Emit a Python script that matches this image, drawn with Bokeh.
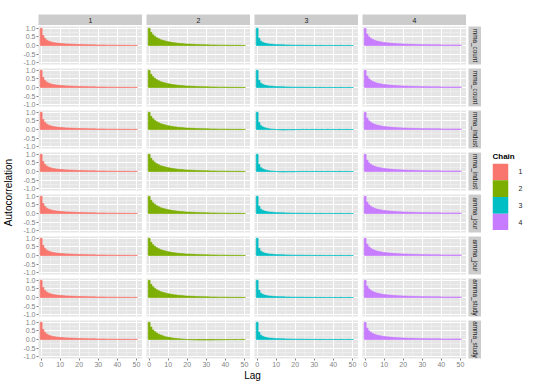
import math
from bokeh.plotting import figure
from bokeh.layouts import row, column
from bokeh.models import (Range1d, FixedTicker, LinearAxis, PrintfTickFormatter,
                          Spacer, FactorRange, CategoricalAxis)
from bokeh.embed import file_html
from bokeh.resources import INLINE
from bokeh.core.properties import value

FONT = "Liberation Sans"

# ---------------- data ----------------
lags = list(range(51))
chains = ["1", "2", "3", "4"]
chain_colors = ["#F8766D", "#7CAE00", "#00BFC4", "#C77CFF"]
row_labels = ["mma_count", "mma_count", "mma_indust", "mma_indust",
              "amma_jour", "amma_jour", "amma_study", "amma_study"]
x_ticks = [0, 10, 20, 30, 40, 50]
x_minor = [5, 15, 25, 35, 45]
y_ticks = [-1.0, -0.5, 0.0, 0.5, 1.0]
y_minor = [-0.75, -0.25, 0.25, 0.75]

acf_chain1 = [1.00, 0.58, 0.40, 0.31, 0.25, 0.21, 0.18, 0.16, 0.14, 0.13,
              0.12, 0.11, 0.10, 0.09, 0.09, 0.08, 0.08, 0.07, 0.07, 0.06,
              0.06, 0.06, 0.05, 0.05, 0.05, 0.04, 0.04, 0.04, 0.04, 0.03,
              0.03, 0.03, 0.03, 0.03, 0.02, 0.02, 0.02, 0.02, 0.02, 0.02,
              0.01, 0.02, 0.01, 0.01, 0.02, 0.01, 0.01, 0.01, 0.00, 0.01, 0.01]
acf_chain2 = [1.00, 0.76, 0.62, 0.52, 0.45, 0.39, 0.34, 0.30, 0.27, 0.24,
              0.22, 0.20, 0.18, 0.16, 0.15, 0.13, 0.12, 0.11, 0.10, 0.09,
              0.08, 0.08, 0.07, 0.07, 0.06, 0.06, 0.05, 0.05, 0.05, 0.04,
              0.04, 0.04, 0.03, 0.03, 0.03, 0.03, 0.02, 0.02, 0.02, 0.02,
              0.02, 0.02, 0.01, 0.01, 0.01, 0.01, 0.01, 0.01, 0.01, 0.00, 0.01]
acf_chain3 = [1.00, 0.42, 0.25, 0.18, 0.14, 0.11, 0.09, 0.08, 0.07, 0.06,
              0.05, 0.05, 0.04, 0.04, 0.04, 0.03, 0.03, 0.03, 0.02, 0.02,
              0.02, 0.02, 0.02, 0.01, 0.02, 0.01, 0.01, 0.01, 0.01, 0.00,
              0.01, 0.01, 0.00, 0.01, 0.00, 0.01, 0.00, 0.00, 0.01, 0.00,
              0.00, 0.01, 0.00, 0.00, 0.01, 0.00, 0.00, 0.00, 0.01, 0.00, 0.00]
acf_chain4 = [1.00, 0.66, 0.50, 0.41, 0.35, 0.30, 0.26, 0.23, 0.21, 0.19,
              0.17, 0.16, 0.15, 0.14, 0.13, 0.12, 0.11, 0.10, 0.10, 0.09,
              0.09, 0.08, 0.08, 0.07, 0.07, 0.07, 0.06, 0.06, 0.06, 0.05,
              0.05, 0.05, 0.05, 0.05, 0.04, 0.04, 0.04, 0.04, 0.04, 0.04,
              0.03, 0.03, 0.03, 0.03, 0.03, 0.03, 0.03, 0.03, 0.03, 0.03, 0.03]
# panels that differ visibly from their chain's usual shape
acf_indust_chain3 = [1.00, 0.40, 0.22, 0.15, 0.10, 0.07, 0.05, 0.03, 0.02, 0.01,
                     0.00, -0.01, -0.02, -0.02, -0.03, -0.02, -0.02, -0.01, -0.02, -0.01,
                     -0.01, 0.00, -0.01, 0.00, 0.01, 0.00, 0.01, 0.00, 0.00, 0.01,
                     0.00, 0.01, 0.00, 0.00, 0.01, 0.00, 0.00, 0.01, 0.00, 0.00,
                     0.01, 0.00, 0.00, 0.01, 0.00, 0.00, 0.00, 0.01, 0.00, 0.00, 0.00]
acf_study_chain2 = [1.00, 0.72, 0.55, 0.45, 0.37, 0.31, 0.26, 0.22, 0.18, 0.15,
                    0.13, 0.11, 0.09, 0.07, 0.06, 0.05, 0.04, 0.03, 0.02, 0.01,
                    0.00, -0.01, -0.01, -0.02, -0.02, -0.03, -0.03, -0.03, -0.03, -0.03,
                    -0.03, -0.03, -0.03, -0.03, -0.02, -0.02, -0.02, -0.02, -0.01, -0.01,
                    -0.01, -0.01, 0.00, 0.00, 0.00, -0.01, 0.00, 0.00, 0.00, 0.01, 0.00]

chain_acf = [acf_chain1, acf_chain2, acf_chain3, acf_chain4]
overrides = {(2, 2): acf_indust_chain3, (3, 2): acf_indust_chain3,
             (7, 1): acf_study_chain2}

# ---------------- style ----------------
PANEL_BG = "#E5E5E5"
STRIP_BG = "#CCCCCC"
TICK_COL = "#7F7F7F"
FW, FH = 104, 38
LEFT0 = 22  # border left of first column (room for y tick labels)
NROWS = 8


def base_fig(**kw):
    opts = dict(output_backend="svg", toolbar_location=None,
                x_axis_location=None, y_axis_location=None,
                outline_line_color=None, border_fill_color="white",
                min_border_left=0, min_border_right=0,
                min_border_top=0, min_border_bottom=0)
    opts.update(kw)
    return figure(**opts)


def style_axis(ax):
    ax.axis_line_color = None
    ax.major_tick_line_color = TICK_COL
    ax.major_tick_out = 2
    ax.major_tick_in = 0
    ax.minor_tick_line_color = None
    ax.major_label_text_font_size = "7px"
    ax.major_label_text_color = TICK_COL
    ax.major_label_text_font = FONT
    ax.major_label_standoff = 1


def row_borders(r):
    top = 1 if r == 0 else 2
    bottom = 12 if r == NROWS - 1 else 2
    return top, bottom


def panel(r, c):
    top, bottom = row_borders(r)
    p = base_fig(frame_width=FW, frame_height=FH,
                 x_range=Range1d(-1.4, 53.2), y_range=Range1d(-1.1, 1.1),
                 background_fill_color=PANEL_BG,
                 min_border_left=LEFT0 if c == 0 else 4,
                 min_border_top=top, min_border_bottom=bottom)
    p.xgrid.ticker = FixedTicker(ticks=x_ticks, minor_ticks=x_minor)
    p.ygrid.ticker = FixedTicker(ticks=y_ticks, minor_ticks=y_minor)
    p.grid.grid_line_color = "white"
    p.grid.grid_line_width = 1
    p.grid.minor_grid_line_color = "#F2F2F2"
    p.grid.minor_grid_line_width = 0.6
    vals = overrides.get((r, c), chain_acf[c])
    p.vbar(x=lags, top=vals, bottom=0, width=1.0,
           fill_color=chain_colors[c], line_color=chain_colors[c],
           line_width=0.6)
    if c == 0:
        ya = LinearAxis(ticker=FixedTicker(ticks=y_ticks),
                        formatter=PrintfTickFormatter(format="%.1f"))
        style_axis(ya)
        p.add_layout(ya, "left")
    if r == NROWS - 1:
        xa = LinearAxis(ticker=FixedTicker(ticks=x_ticks))
        style_axis(xa)
        p.add_layout(xa, "below")
    return p


def top_strip(c):
    s = base_fig(frame_width=FW, frame_height=11,
                 x_range=Range1d(0, 1), y_range=Range1d(0, 1),
                 background_fill_color=STRIP_BG,
                 min_border_left=LEFT0 if c == 0 else 4, min_border_top=14)
    s.grid.visible = False
    s.text(x=[0.5], y=[0.5], text=[chains[c]], text_align="center",
           text_baseline="middle", text_font_size="7px",
           text_color="#1A1A1A", text_font=value(FONT))
    return s


def right_strip(r):
    top, bottom = row_borders(r)
    s = base_fig(frame_width=13, frame_height=FH,
                 x_range=Range1d(0, 1), y_range=Range1d(0, 1),
                 background_fill_color=STRIP_BG,
                 min_border_left=2, min_border_top=top,
                 min_border_bottom=bottom)
    s.grid.visible = False
    s.text(x=[0.5], y=[0.5], text=[row_labels[r]], angle=-math.pi / 2,
           text_align="center", text_baseline="middle", text_font_size="6.4px",
           text_color="#1A1A1A", text_font=value(FONT))
    return s


rows = [row([top_strip(c) for c in range(4)])]
for r in range(NROWS):
    rows.append(row([panel(r, c) for c in range(4)] + [right_strip(r)]))

xlab = base_fig(frame_width=428, frame_height=14,
                x_range=Range1d(0, 1), y_range=Range1d(0, 1),
                background_fill_color="white", min_border_left=LEFT0)
xlab.grid.visible = False
xlab.text(x=[0.5], y=[0.62], text=["Lag"], text_align="center",
          text_baseline="middle", text_font_size="10px", text_color="black",
          text_font=value(FONT))
rows.append(xlab)
grid_col = column(rows)

ylab = base_fig(frame_width=16, frame_height=332,
                x_range=Range1d(0, 1), y_range=Range1d(0, 1),
                background_fill_color="white", min_border_top=26)
ylab.grid.visible = False
ylab.text(x=[0.5], y=[0.5], text=["Autocorrelation"], angle=math.pi / 2,
          text_align="center", text_baseline="middle", text_font_size="10px",
          text_color="black", text_font=value(FONT))

# legend
ltitle = base_fig(frame_width=30, frame_height=12,
                  x_range=Range1d(0, 1), y_range=Range1d(0, 1),
                  background_fill_color="white", min_border_left=11)
ltitle.grid.visible = False
ltitle.text(x=[0], y=[0.5], text=["Chain"], text_align="left",
            text_baseline="middle", text_font_size="8px",
            text_font_style="bold", text_color="black", text_font=value(FONT))

lkeys = base_fig(frame_width=16, frame_height=67,
                 x_range=Range1d(0, 1),
                 y_range=FactorRange(factors=list(reversed(chains))),
                 background_fill_color="white", min_border_left=11,
                 min_border_top=1, min_border_right=14)
lkeys.grid.visible = False
lkeys.hbar(y=chains, left=0, right=1, height=1, fill_color=chain_colors,
           line_color=None)
ka = CategoricalAxis()
ka.axis_line_color = None
ka.major_tick_line_color = None
ka.minor_tick_line_color = None
ka.major_label_text_font_size = "7px"
ka.major_label_text_color = "#1A1A1A"
ka.major_label_text_font = FONT
ka.major_label_standoff = 4
lkeys.add_layout(ka, "right")

legend_col = column([Spacer(width=10, height=150), ltitle, lkeys])

layout = row([ylab, grid_col, legend_col])

open("out.html", "w").write(file_html(layout, INLINE))
